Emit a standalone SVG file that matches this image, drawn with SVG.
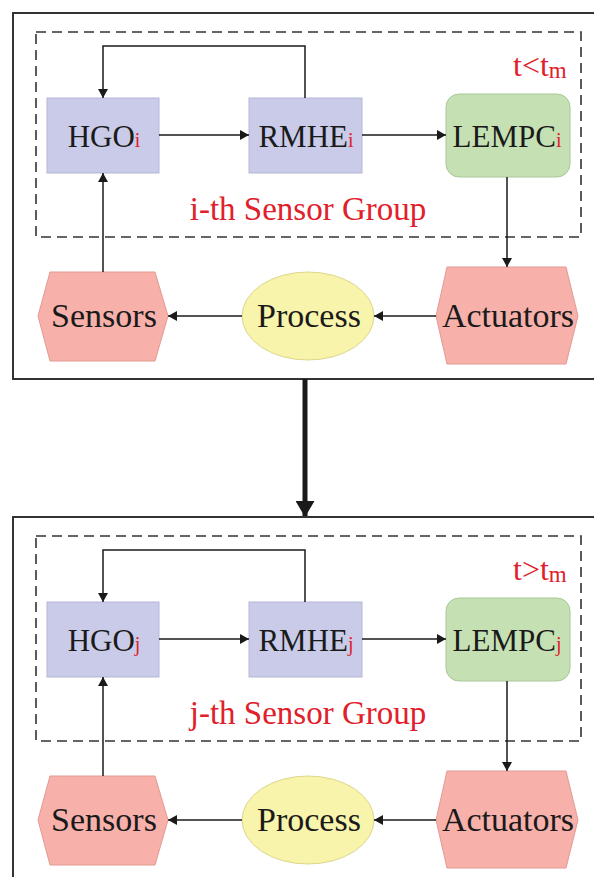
<svg xmlns="http://www.w3.org/2000/svg" width="594" height="877" viewBox="0 0 594 877">
<defs>
<marker id="ah" viewBox="0 0 10 10" refX="10" refY="5" markerWidth="9" markerHeight="10" markerUnits="userSpaceOnUse" orient="auto" preserveAspectRatio="none">
<path d="M0,0 L10,5 L0,10 z" fill="#1a1a1a"/>
</marker>
<marker id="bigah" viewBox="0 0 10 10" refX="10" refY="5" markerWidth="16" markerHeight="19" markerUnits="userSpaceOnUse" orient="auto" preserveAspectRatio="none">
<path d="M0,0 L10,5 L0,10 z" fill="#1a1a1a"/>
</marker>
<style>
.frame{fill:none;stroke:#333;stroke-width:2}
.dash{fill:none;stroke:#333;stroke-width:1.6;stroke-dasharray:10 6}
.blk{fill:#c9cbe8;stroke:#b4b7d8;stroke-width:1}
.ctl{fill:#c5e0b3;stroke:#a8c898;stroke-width:1}
.hex{fill:#f7b1aa;stroke:#e39a92;stroke-width:1}
.proc{fill:#f8f4ab;stroke:#dcd68c;stroke-width:1}
.lbl{font-family:"Liberation Serif","Times New Roman",serif;font-size:31px;fill:#1a1a1a;text-anchor:middle}
.big{font-size:34px}
.sub{font-size:20px;fill:#e0202a}
.red{font-family:"Liberation Serif","Times New Roman",serif;fill:#e0202a}
.cn{fill:none;stroke:#1a1a1a;stroke-width:1.5;marker-end:url(#ah)}
</style>
</defs>
<rect width="594" height="877" fill="#fff"/>

<g id="panel-i">
<rect class="frame" x="13" y="13" width="600" height="366"/>
<rect class="dash" x="36" y="32" width="545" height="205"/>
<text class="red" x="513" y="76" font-size="32">t&lt;t<tspan font-size="23" dy="2">m</tspan></text>
<text class="red" x="308" y="220" font-size="33" text-anchor="middle">i-th Sensor Group</text>
<g id="hgo-i"><rect class="blk" x="47" y="98" width="112" height="75"/><text class="lbl" x="104" y="147">HGO<tspan class="sub">i</tspan></text></g>
<g id="rmhe-i"><rect class="blk" x="249" y="98" width="113" height="75"/><text class="lbl" x="306" y="147">RMHE<tspan class="sub">i</tspan></text></g>
<g id="lempc-i"><rect class="ctl" x="446" y="94" width="124" height="83" rx="13"/><text class="lbl" x="507" y="147">LEMPC<tspan class="sub">i</tspan></text></g>
<g id="sensors-i"><polygon class="hex" points="50,272 155,272 168,316 155,361 50,361 38,316"/><text class="lbl big" x="104" y="327">Sensors</text></g>
<g id="process-i"><ellipse class="proc" cx="308" cy="316" rx="66" ry="44"/><text class="lbl big" x="309" y="327">Process</text></g>
<g id="actuators-i"><polygon class="hex" points="447,267 566,267 578,316 566,364 447,364 436,316"/><text class="lbl big" x="508" y="327">Actuators</text></g>
<g id="connectors-i">
<path class="cn" d="M305,98 V46 H103 V98"/>
<path class="cn" d="M159,135 H249"/>
<path class="cn" d="M362,135 H446"/>
<path class="cn" d="M507,177 V267"/>
<path class="cn" d="M436,316 H374"/>
<path class="cn" d="M242,316 H168"/>
<path class="cn" d="M103,272 V173"/>
</g>
</g>

<g id="transition">
<path d="M305,379 V517" fill="none" stroke="#1a1a1a" stroke-width="5" marker-end="url(#bigah)"/>
</g>

<g id="panel-j" transform="translate(0,504)">
<rect class="frame" x="13" y="13" width="600" height="400"/>
<rect class="dash" x="36" y="32" width="545" height="205"/>
<text class="red" x="513" y="76" font-size="32">t&gt;t<tspan font-size="23" dy="2">m</tspan></text>
<text class="red" x="308" y="220" font-size="33" text-anchor="middle">j-th Sensor Group</text>
<g id="hgo-j"><rect class="blk" x="47" y="98" width="112" height="75"/><text class="lbl" x="104" y="147">HGO<tspan class="sub">j</tspan></text></g>
<g id="rmhe-j"><rect class="blk" x="249" y="98" width="113" height="75"/><text class="lbl" x="306" y="147">RMHE<tspan class="sub">j</tspan></text></g>
<g id="lempc-j"><rect class="ctl" x="446" y="94" width="124" height="83" rx="13"/><text class="lbl" x="507" y="147">LEMPC<tspan class="sub">j</tspan></text></g>
<g id="sensors-j"><polygon class="hex" points="50,272 155,272 168,316 155,361 50,361 38,316"/><text class="lbl big" x="104" y="327">Sensors</text></g>
<g id="process-j"><ellipse class="proc" cx="308" cy="316" rx="66" ry="44"/><text class="lbl big" x="309" y="327">Process</text></g>
<g id="actuators-j"><polygon class="hex" points="447,267 566,267 578,316 566,364 447,364 436,316"/><text class="lbl big" x="508" y="327">Actuators</text></g>
<g id="connectors-j">
<path class="cn" d="M305,98 V46 H103 V98"/>
<path class="cn" d="M159,135 H249"/>
<path class="cn" d="M362,135 H446"/>
<path class="cn" d="M507,177 V267"/>
<path class="cn" d="M436,316 H374"/>
<path class="cn" d="M242,316 H168"/>
<path class="cn" d="M103,272 V173"/>
</g>
</g>
</svg>
